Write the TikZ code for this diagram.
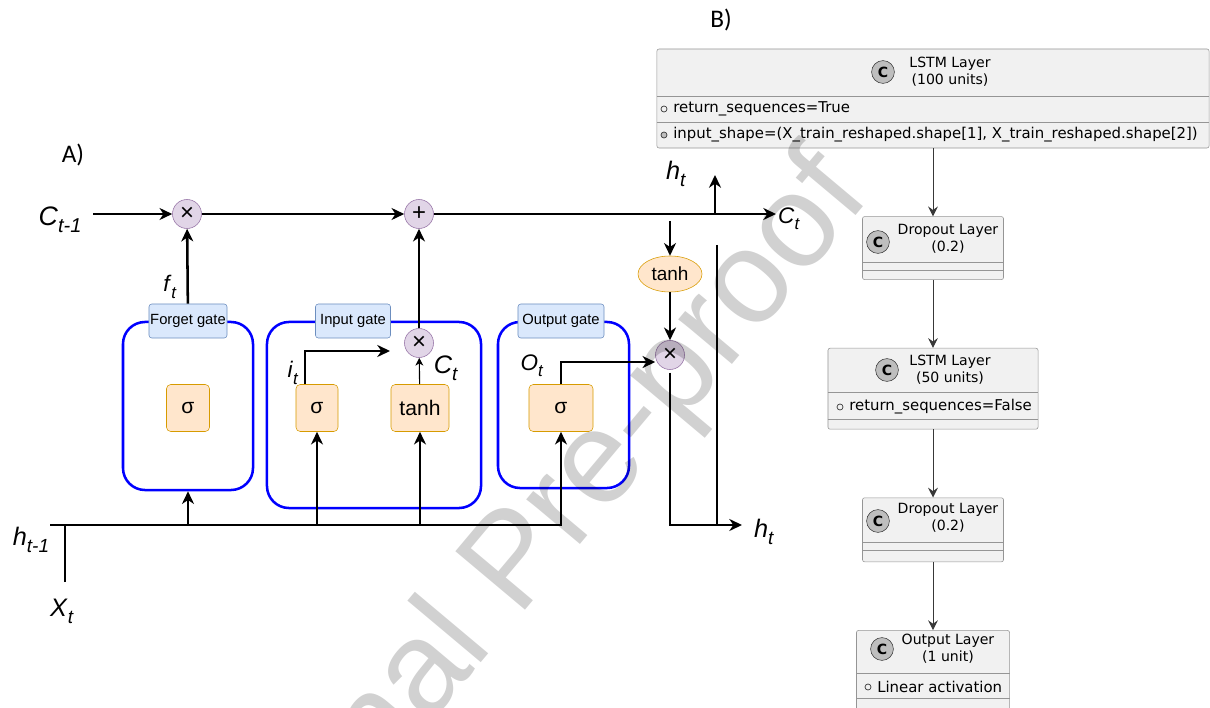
\documentclass[tikz,border=0pt]{standalone}
\usepackage{fontspec}
\usepackage{graphicx}
\setmainfont{Liberation Sans}
\newfontfamily\umlfont{DejaVu Sans}
\newfontfamily\capfont{Carlito}
\usepackage{tikz}
\usetikzlibrary{positioning, arrows.meta, shapes.geometric}

\definecolor{opfill}{HTML}{E1D5E7}
\definecolor{opline}{HTML}{9673A6}
\definecolor{actfill}{HTML}{FFE6CC}
\definecolor{actline}{HTML}{D79B00}
\definecolor{gatefill}{HTML}{DAE8FC}
\definecolor{gateline}{HTML}{6C8EBF}
\definecolor{umlfill}{HTML}{F1F1F1}
\definecolor{umlline}{HTML}{959595}
\definecolor{umlicon}{HTML}{BEBEBE}
\definecolor{umldark}{HTML}{383838}

\newcommand{\lstmvar}[2]{\textit{#1}\raisebox{-0.28em}{\scalebox{0.75}{\textit{#2}}}}

\begin{document}
\begin{tikzpicture}[x=0.025cm, y=-0.025cm, node distance=1.7cm,
    >={Stealth[length=9pt, width=8.5pt, inset=2.8pt]},
    flow/.style={->, line width=1.8pt},
    wire/.style={line width=1.8pt},
    op/.style={circle, draw=opline, fill=opfill, minimum size=0.725cm, inner sep=0pt, font=\fontsize{17}{17}\selectfont},
    act/.style={draw=actline, fill=actfill, rounded corners=3pt, minimum height=1.175cm, inner sep=0pt, font=\fontsize{15}{15}\selectfont},
    gatebox/.style={draw=blue, line width=1.8pt, rounded corners=0.55cm, inner sep=0pt},
    gatelbl/.style={draw=gateline, fill=gatefill, rounded corners=2pt, minimum height=0.85cm, inner sep=0pt, font=\fontsize{10.5}{10.5}\selectfont},
    lbl/.style={inner sep=0pt, font=\fontsize{18}{18}\selectfont},
    small/.style={inner sep=0pt, font=\fontsize{16}{16}\selectfont},
    layer/.style={draw=umlline, fill=umlfill, rounded corners=1.5pt, inner sep=0pt},
    ltitle/.style={align=center, inner sep=0pt, font=\umlfont\fontsize{10}{12}\selectfont},
    lrow/.style={anchor=west, inner sep=0pt, font=\umlfont\fontsize{10.6}{12}\selectfont},
    cicon/.style={circle, draw=umldark, fill=umlicon, minimum size=0.57cm, inner sep=0pt, font=\umlfont\bfseries\fontsize{10}{10}\selectfont},
    vis/.style={circle, draw=umldark, inner sep=0pt, minimum size=0.15cm, line width=0.5pt},
    uarrow/.style={-{Stealth[length=7pt, width=7pt, inset=2.5pt]}, draw=umldark, line width=0.7pt}]

    \useasboundingbox (0,0) rectangle (1210,708);

    % A) LSTM cell
    \node[font=\capfont\fontsize{18}{18}\selectfont, inner sep=0pt] (capA) at (73,155) {A)};

    % Gates
    \node[gatebox, minimum width=3.25cm, minimum height=4.2cm] (fg) at (188,406) {};
    \node[gatebox, minimum width=5.35cm, minimum height=4.65cm] (ig) at (374,415) {};
    \node[gatebox, minimum width=3.275cm, minimum height=4.15cm] (og) at (563.5,405) {};
    \node[gatelbl, minimum width=1.95cm] (fgl) at (188,321) {Forget gate};
    \node[gatelbl, minimum width=1.875cm] (igl) at (353,321) {Input gate};
    \node[gatelbl, minimum width=2.15cm] (ogl) at (561,321) {Output gate};

    % Activations
    \node[act, minimum width=1.075cm] (sf) at (188,408) {σ};
    \node[act, minimum width=1.05cm] (si) at (317,408) {σ};
    \node[act, minimum width=1.45cm] (ti) at (420,408) {tanh};
    \node[act, minimum width=1.6cm] (so) at (561,408) {σ};
    \node[ellipse, draw=actline, fill=actfill, minimum width=1.6cm, minimum height=0.9cm, inner sep=0pt, font=\fontsize{13.5}{13.5}\selectfont] (tc) at (670,274) {tanh};

    % Pointwise operations
    \node[op] (mf) at (187,214) {×};
    \node[op] (ma) at (419,214) {+};
    \node[op] (mi) at (419,343) {×};
    \node[op] (mo) at (670,355) {×};

    % Free ends
    \coordinate (cin) at (93,214);
    \coordinate (cout) at (776,214);
    \coordinate (hup) at (715,175);
    \coordinate (ctap) at (670,221);
    \coordinate (hout) at (742,525);
    \coordinate (vtop) at (717,245);
    \coordinate (hprev) at (50,525);
    \coordinate (xin) at (65,582);
    \coordinate (itend) at (390,351);

    % Labels
    \node[lbl, font=\fontsize{19}{19}\selectfont] (lcp) at (60,220) {\lstmvar{C}{t-1}};
    \node[small] (lf) at (170,287) {\lstmvar{f}{t}};
    \node[small] (li) at (293,373) {\lstmvar{i}{t}};
    \node[lbl] (lci) at (446,368) {\lstmvar{C}{t}};
    \node[small] (lo) at (532,366) {\lstmvar{O}{t}};
    \node[lbl] (lht) at (676,174) {\lstmvar{h}{t}};
    \node[small] (lct) at (789,219) {\lstmvar{C}{t}};
    \node[lbl] (lho) at (764,532) {\lstmvar{h}{t}};
    \node[lbl] (lhp) at (31,540) {\lstmvar{h}{t-1}};
    \node[lbl] (lx) at (62,611) {\lstmvar{X}{t}};

    % Connections
    \draw[flow] (cin) -- (mf);
    \draw[flow] (mf) -- (ma);
    \draw[flow] (ma) -- (cout);
    \draw[flow] (hup |- ma) -- (hup);
    \draw[flow] (ctap) -- (tc);
    \draw[flow] (tc) -- (mo);
    \draw[flow, shorten <=2pt] (mo) |- (hout);
    \draw[wire] (vtop) -- (vtop |- hout);
    \draw[flow] (fgl) -- (mf);
    \draw[flow] (hprev) -| (so);
    \draw[flow] (fg.south |- hprev) -- (fg);
    \draw[flow] (si |- hprev) -- (si);
    \draw[flow] (ti |- hprev) -- (ti);
    \draw[wire] (xin) -- (xin |- hprev);
    \draw[flow] ([xshift=-8.5pt]si.north) |- (itend);
    \draw[->, line width=0.8pt, >={Stealth[length=5.5pt, width=5.5pt, inset=1.5pt]}] (ti) -- (mi);
    \draw[flow] (mi) -- (ma);
    \draw[flow] (so) |- ([yshift=-5pt]mo.west);

    % B) model layers
    \node[font=\capfont\fontsize{18}{18}\selectfont, inner sep=0pt] (capB) at (721,20) {B)};

    \node[layer, minimum width=13.8cm, minimum height=2.475cm] (l1) at (933,98.5) {};
    \node[layer, minimum width=3.525cm, minimum height=1.575cm, below=of l1] (l2) {};
    \node[layer, minimum width=5.25cm, minimum height=2.025cm, below=of l2] (l3) {};
    \node[layer, minimum width=3.525cm, minimum height=1.6cm, below=of l3] (l4) {};
    \node[layer, minimum width=3.825cm, minimum height=2cm, below=of l4] (l5) {};

    % Compartments
    \draw[umlline] (l1.west |- 0,96) -- (l1.east |- 0,96);
    \draw[umlline] (l1.west |- 0,122) -- (l1.east |- 0,122);
    \draw[umlline] (l2.west |- 0,262) -- (l2.east |- 0,262);
    \draw[umlline] (l2.west |- 0,270) -- (l2.east |- 0,270);
    \draw[umlline] (l3.west |- 0,392) -- (l3.east |- 0,392);
    \draw[umlline] (l3.west |- 0,419) -- (l3.east |- 0,419);
    \draw[umlline] (l4.west |- 0,542) -- (l4.east |- 0,542);
    \draw[umlline] (l4.west |- 0,550) -- (l4.east |- 0,550);
    \draw[umlline] (l5.west |- 0,673) -- (l5.east |- 0,673);
    \draw[umlline] (l5.west |- 0,698) -- (l5.east |- 0,698);

    % Titles and fields
    \node[ltitle] (t1) at (950,71.5) {LSTM Layer\\(100 units)};
    \node[cicon] (c1) at (883,72) {C};
    \node[vis] (v1a) at (664,109) {};
    \node[lrow] (r1a) at (673,109) {return\_sequences=True};
    \node[vis, fill=umlicon] (v1b) at (664,135) {};
    \node[lrow] (r1b) at (673,135) {input\_shape=(X\_train\_reshaped.shape[1], X\_train\_reshaped.shape[2])};

    \node[ltitle] (t2) at (948,239) {Dropout Layer\\(0.2)};
    \node[cicon] (c2) at (878,242) {C};

    \node[ltitle] (t3) at (950,370) {LSTM Layer\\(50 units)};
    \node[cicon] (c3) at (887,370) {C};
    \node[vis] (v3) at (840,407) {};
    \node[lrow] (r3) at (849,407) {return\_sequences=False};

    \node[ltitle] (t4) at (948,518) {Dropout Layer\\(0.2)};
    \node[cicon] (c4) at (878,521) {C};

    \node[ltitle] (t5) at (948,648.5) {Output Layer\\(1 unit)};
    \node[cicon] (c5) at (882,649) {C};
    \node[vis] (v5) at (868,687) {};
    \node[lrow] (r5) at (877,687) {Linear activation};

    \draw[uarrow] (l1) -- (l2);
    \draw[uarrow] (l2) -- (l3);
    \draw[uarrow] (l3) -- (l4);
    \draw[uarrow] (l4) -- (l5);

    % Watermark
    \begin{scope}
        \clip (0,0) rectangle (1210,708);
        \node[rotate=50, anchor=base west, inner sep=0pt, opacity=0.18, font=\fontsize{94}{94}\selectfont] (wm) at (216,979) {Journal Pre-proof};
    \end{scope}
\end{tikzpicture}
\end{document}
